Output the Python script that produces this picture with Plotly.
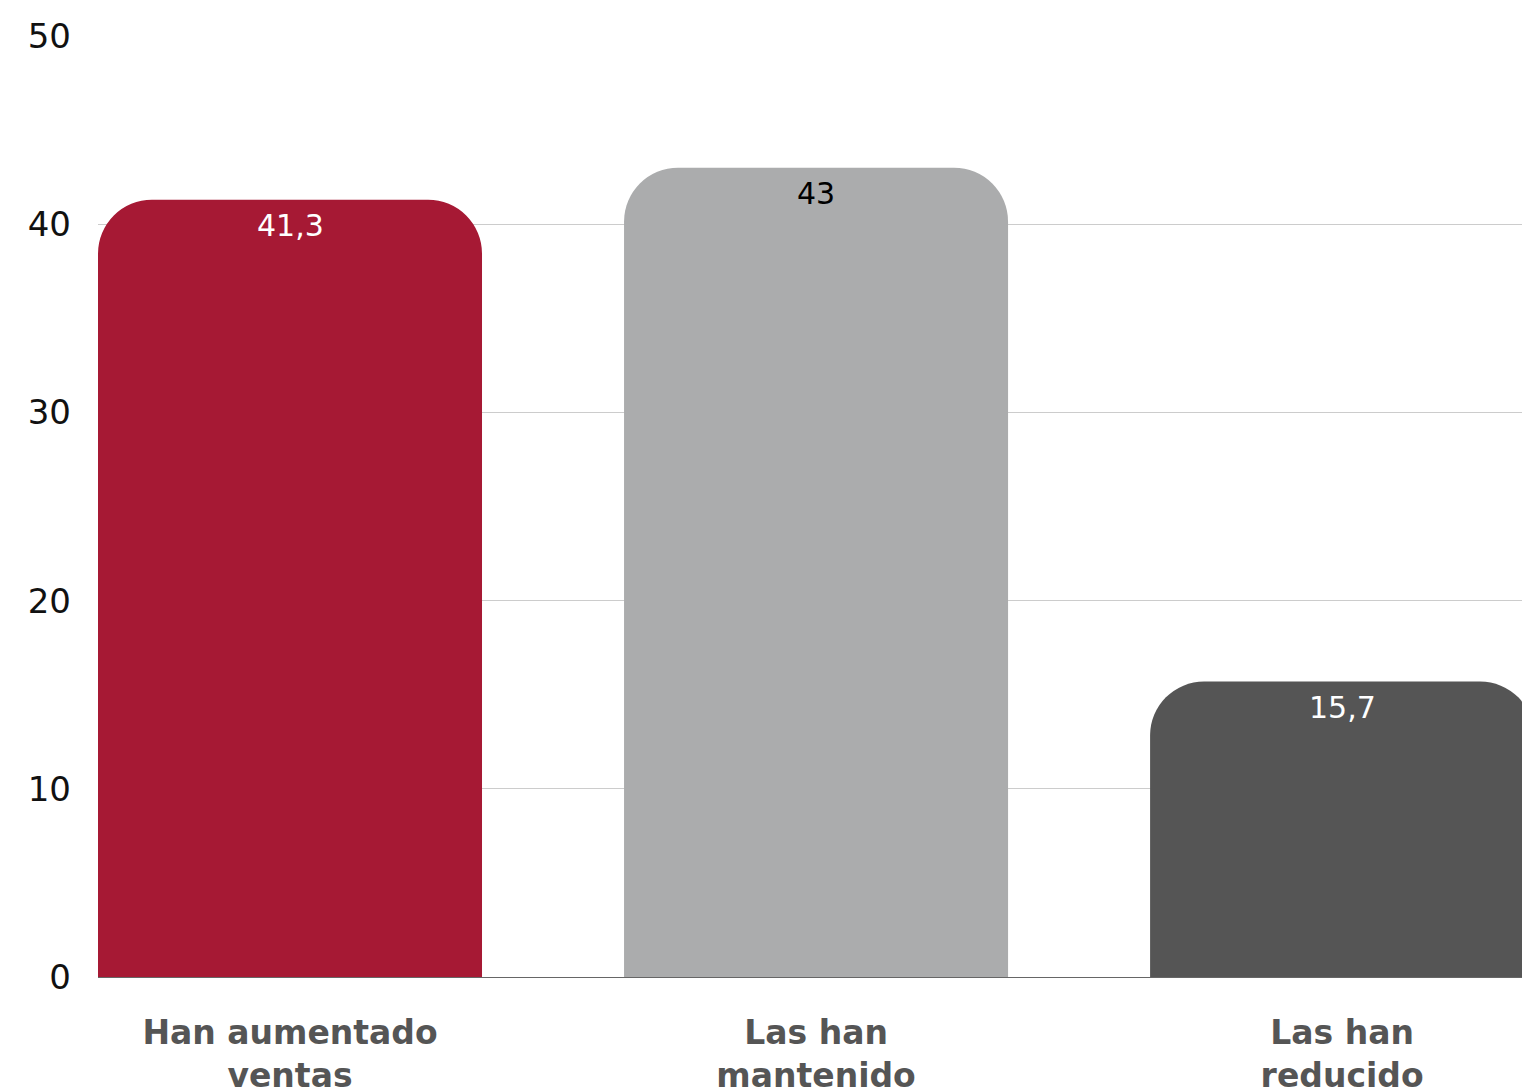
"""Bar chart: evolución de ventas (han aumentado / mantenido / reducido)."""

import plotly.graph_objects as go

categories = ["Han aumentado<br>ventas", "Las han<br>mantenido", "Las han<br>reducido"]
values = [41.3, 43, 15.7]
bar_colors = ["#A61934", "#ABACAD", "#555555"]
label_colors = ["#FFFFFF", "#000000", "#FFFFFF"]
y_ticks = [0, 10, 20, 30, 40, 50]

FONT = "DejaVu Sans"


def fmt(v: float) -> str:
    """Spanish decimal comma, no trailing ,0"""
    return f"{v:g}".replace(".", ",")


bars = go.Bar(
    x=[0, 1, 2], y=values, width=0.73,
    marker={"color": bar_colors, "cornerradius": 54, "line": {"width": 0}},
    showlegend=False, hoverinfo="skip",
)

fig = go.Figure(bars)
# value labels just under the top of each bar (inside text gets pushed down by the corners)
for i, (v, c) in enumerate(zip(values, label_colors)):
    fig.add_annotation(x=i, y=v, text=fmt(v), showarrow=False, yanchor="top",
                       yshift=-6, font={"family": FONT, "size": 30, "color": c})

fig.update_layout(
    width=1522, height=1090,
    margin={"l": 98, "r": 0, "t": 36, "b": 113},
    paper_bgcolor="white", plot_bgcolor="white",
    font={"family": FONT},
)
fig.update_xaxes(
    range=[-0.365, 2.342], tickvals=[0, 1, 2], ticktext=categories,
    tickfont={"family": FONT, "size": 33, "color": "#555555", "weight": "bold"},
    showgrid=False, showline=True, linecolor="#666666", linewidth=1,
    ticks="", ticklabelstandoff=26, automargin=False,
)
fig.update_yaxes(
    range=[0, 50], tickvals=y_ticks, ticktext=[str(t) for t in y_ticks],
    tickfont={"family": FONT, "size": 34, "color": "#111111"},
    showgrid=True, gridcolor="#CCCCCC", gridwidth=1,
    zeroline=False, showline=False, ticks="", ticklabelstandoff=26,
    automargin=False,
)

# drop the default 8px body margin so the figure fills the window exactly
fig.write_html("out.html", config={"displayModeBar": False},
               post_script="document.body.style.margin = '0';")
